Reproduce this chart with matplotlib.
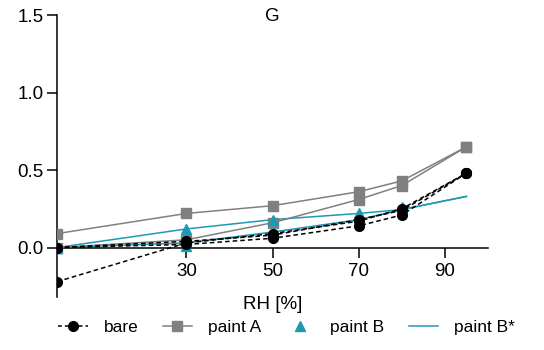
import matplotlib
matplotlib.use("Agg")
import matplotlib.pyplot as plt
from matplotlib.lines import Line2D

plt.rcParams["font.family"] = ["Liberation Sans", "DejaVu Sans"]

RH = [0, 30, 50, 70, 80, 95]

# bare (dashed, black circles), three replicates
bare = [
    [-0.22, 0.03, 0.09, 0.17, 0.25, 0.48],
    [0.0, 0.02, 0.06, 0.14, 0.21, 0.48],
    [0.0, 0.04, 0.08, 0.18, 0.24, 0.48],
]
# paint A (grey squares)
paint_a = [
    [0.09, 0.22, 0.27, 0.36, 0.43, 0.65],
    [0.0, 0.05, 0.16, 0.31, 0.40, 0.65],
]
# paint B (teal triangles, points only)
RH_B = [0, 30, 50, 70, 80]
paint_b = [
    [0.0, 0.12, 0.18, 0.22, 0.26],
    [0.0, 0.01, 0.10, 0.17, 0.24],
]
# paint B* (teal lines)
paint_bs = [
    [0.0, 0.12, 0.18, 0.22, 0.245, 0.33],
    [0.0, 0.03, 0.10, 0.18, 0.245, 0.33],
]

GREY = "#808080"
TEAL = "#1c9ab4"
FS = 13.5

fig = plt.figure(figsize=(5.44, 3.5), dpi=100)
ax = fig.add_axes([0.105, 0.151, 0.792, 0.806])

for y in paint_bs:
    ax.plot(RH, y, color=TEAL, lw=1.1, zorder=2)
for y in paint_a:
    ax.plot(RH, y, color=GREY, lw=1.1, marker="s", ms=7, zorder=3)
for y in paint_b:
    ax.plot(RH_B, y, ls="none", color=TEAL, marker="^", ms=7, zorder=3)
for y in bare:
    ax.plot(RH, y, color="black", lw=1.1, ls=(0, (3, 2)), marker="o", ms=7, zorder=4)

ax.set_xlim(0, 100)
ax.set_ylim(-0.32, 1.5)
ax.set_xticks([30, 50, 70, 90])
ax.set_yticks([0.0, 0.5, 1.0, 1.5])
ax.set_yticklabels(["0.0", "0.5", "1.0", "1.5"])
ax.spines["top"].set_visible(False)
ax.spines["right"].set_visible(False)
ax.spines["bottom"].set_position(("data", 0))
ax.spines["left"].set_linewidth(1.1)
ax.spines["bottom"].set_linewidth(1.1)
ax.tick_params(labelsize=FS, length=7, width=1.1, direction="out")
ax.tick_params(axis="y", pad=2.5)
ax.tick_params(axis="x", pad=4)
ax.set_xlabel("RH [%]", fontsize=FS, labelpad=0)
ax.xaxis.set_label_coords(0.5, 0.005)
ax.text(50, 1.49, "G", ha="center", va="center", fontsize=FS)

handles = [
    Line2D([], [], color="black", lw=1.1, ls=(0, (2.5, 2)), marker="o", ms=7),
    Line2D([], [], color=GREY, lw=1.1, marker="s", ms=7),
    Line2D([], [], ls="none", color=TEAL, marker="^", ms=7),
    Line2D([], [], color=TEAL, lw=1.1),
]
fig.legend(handles, ["bare", "paint A", "paint B", "paint B*"], loc="center",
           bbox_to_anchor=(0.527, 0.065), ncol=4, frameon=False, fontsize=12.5,
           handlelength=1.7, handletextpad=0.9, columnspacing=1.4)

fig.savefig("out.png", dpi=100)
